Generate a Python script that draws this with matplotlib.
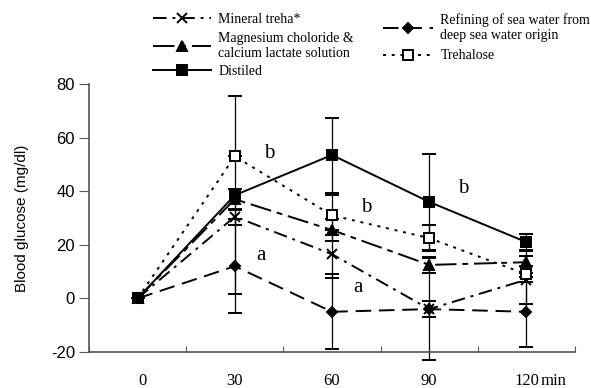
import numpy as np
import matplotlib.pyplot as plt
from matplotlib.lines import Line2D

# Datos
tiempos = ["0", "30", "60", "90", "120"]
distiled = [0, 38.5, 53.5, 36, 21]
distiled_err = [0, 37, 14, 18, 3]
trehalose = [0, 53, 31, 22.5, 9]
trehalose_err = [0, 0, 7.5, 5, 3]
magnesium = [0, 37, 25.5, 12.5, 13.5]
magnesium_err = [0, 4, 4, 3, 4]
mineral = [0, 30.5, 16.5, -4, 7]
mineral_err = [0, 3, 9, 3, 9]
refining = [0, 12, -5, -4, -5]
refining_err = [0, 17.5, 14, 19, 13]

# letras de significancia: (x, y, texto)
letras_x = [1.35, 1.27, 2.35, 2.27, 3.35]
letras_y = [54, 16, 34, 4, 41]
letras = ["b", "a", "b", "a", "b"]

serif = "Liberation Serif"
sans = "Liberation Sans"

fig = plt.figure(figsize=(5.91, 3.88), dpi=100)
ax = fig.add_axes([0.1506, 0.0928, 0.8224, 0.6907])
x = np.arange(len(tiempos))

estilos = [
    (refining, refining_err, (0, (8, 4)), "D", "black", 5),
    (mineral, mineral_err, (0, (7, 3, 1.5, 3)), "x", "black", 7),
    (magnesium, magnesium_err, (0, (11, 3, 3, 3)), "^", "black", 6.5),
    (trehalose, trehalose_err, (0, (1.5, 3)), "s", "white", 6.5),
    (distiled, distiled_err, "-", "s", "black", 6.5),
]
for vals, err, ls, mk, fc, ms in estilos:
    ax.errorbar(x, vals, yerr=err, color="black", linestyle=ls, linewidth=1.4,
                marker=mk, markersize=ms, markerfacecolor=fc, markeredgecolor="black",
                markeredgewidth=1.4, ecolor="black", elinewidth=0.9, capsize=5,
                capthick=0.9, clip_on=False)

for lx, ly, t in zip(letras_x, letras_y, letras):
    ax.text(lx, ly, t, fontsize=15, family=serif, ha="center", va="center")

ax.set_xlim(-0.5, 4.5)
ax.set_ylim(-20, 80)
ax.set_yticks(np.arange(-20, 81, 20))
ax.set_yticklabels([str(v) for v in range(-20, 81, 20)], family=sans, fontsize=12)
ax.set_ylabel("Blood glucose (mg/dl)", family=sans, fontsize=11, labelpad=16)

ax.set_xticks(np.arange(-0.5, 4.6, 1))
ax.set_xticklabels([])
ax.tick_params(axis="x", direction="in", length=4, color="#555555")
ax.tick_params(axis="y", direction="out", length=7, color="#555555", pad=3)
for i, t in enumerate(tiempos):
    ax.text(i + 0.05 if i == 0 else i, -0.08, t, transform=ax.get_xaxis_transform(),
            ha="center", va="top", fontsize=12, family=serif)
ax.text(4.15, -0.08, "min", transform=ax.get_xaxis_transform(),
        ha="left", va="top", fontsize=12, family=serif)

for s in ["top", "right"]:
    ax.spines[s].set_visible(False)
for s in ["left", "bottom"]:
    ax.spines[s].set_color("#555555")
    ax.spines[s].set_linewidth(1.2)

def handle(ls, mk, fc, ms):
    return Line2D([], [], color="black", linestyle=ls, linewidth=1.4, marker=mk,
                  markersize=ms, markerfacecolor=fc, markeredgecolor="black",
                  markeredgewidth=1.4)

h1 = [handle((0, (7, 3, 1.5, 3)), "x", "black", 7),
      handle((0, (11, 3, 3, 3)), "^", "black", 6.5),
      handle("-", "s", "black", 6.5)]
l1 = ["Mineral treha*", "Magnesium choloride &\ncalcium lactate solution", "Distiled"]
leg1 = fig.legend(h1, l1, loc="upper left", bbox_to_anchor=(0.240, 0.995), frameon=False,
                  prop={"family": serif, "size": 10}, handlelength=4.2,
                  handletextpad=0.5, labelspacing=0.4, borderpad=0.3)
h2 = [handle((0, (8, 4)), "D", "black", 5),
      handle((0, (1.5, 3)), "s", "white", 6.5)]
l2 = ["Refining of sea water from\ndeep sea water origin", "Trehalose"]
leg2 = fig.legend(h2, l2, loc="upper left", bbox_to_anchor=(0.630, 0.995), frameon=False,
                  prop={"family": serif, "size": 10}, handlelength=3.6,
                  handletextpad=0.5, labelspacing=0.55, borderpad=0.3)

plt.savefig("out.png", dpi=100)
